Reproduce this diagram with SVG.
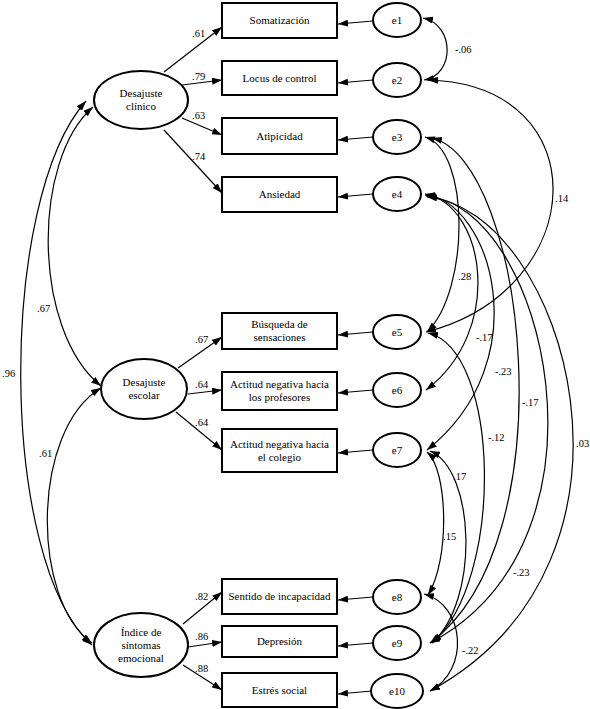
<svg xmlns="http://www.w3.org/2000/svg" width="590" height="709" viewBox="0 0 590 709" font-family="'Liberation Serif', 'Times New Roman', 'DejaVu Serif', serif">
<defs>
<marker id="ah" markerUnits="userSpaceOnUse" markerWidth="10" markerHeight="7" refX="10" refY="3.5" orient="auto-start-reverse">
<path d="M0,0 L10,3.5 L0,7 z" fill="#000"/>
</marker>
<style>
.box{fill:#fff;stroke:#000;stroke-width:2}
.ell{fill:#fff;stroke:#000;stroke-width:2}
text{font-family:'Liberation Serif','Times New Roman','DejaVu Serif',serif}
.t{font-size:11px;fill:#000;text-anchor:middle}
.l{font-size:10.5px;fill:#000}
.a{fill:none;stroke:#000;stroke-width:1.2;marker-end:url(#ah)}
.d{fill:none;stroke:#000;stroke-width:1.2;marker-start:url(#ah);marker-end:url(#ah)}
</style>
</defs>
<rect width="590" height="709" fill="#fff"/>
<g id="connectors">
<path class="a" d="M164 72 L222 27"/>
<path class="a" d="M182 85 L222 80"/>
<path class="a" d="M182 118 L222 135"/>
<path class="a" d="M164 130 L222 193"/>
<path class="a" d="M178 368 L222 337"/>
<path class="a" d="M188 394 L222 390"/>
<path class="a" d="M176 412 L222 450"/>
<path class="a" d="M183 624 L222 592"/>
<path class="a" d="M188 647 L222 642"/>
<path class="a" d="M183 665 L222 690"/>
<path class="a" d="M373 21 L338 24"/>
<path class="a" d="M373 80 L338 83"/>
<path class="a" d="M373 137 L338 140"/>
<path class="a" d="M373 194 L338 197"/>
<path class="a" d="M373 332 L338 335"/>
<path class="a" d="M373 390 L338 393"/>
<path class="a" d="M373 450 L338 453"/>
<path class="a" d="M373 597 L338 600"/>
<path class="a" d="M373 643 L338 646"/>
<path class="a" d="M372 691 L338 694"/>
<path class="d" d="M86 101 C-2 200,-2 560,92 645"/>
<path class="d" d="M93 107 C32 160,32 330,101 386"/>
<path class="d" d="M101 388 C31 430,31 600,92 643"/>
<path class="d" d="M423 18 C455 25,455 75,424 80"/>
<path class="d" d="M428 80 C600 85,590 290,426 332"/>
<path class="d" d="M425 137 C470 150,470 290,427 332"/>
<path class="d" d="M432 138 C525 160,570 540,430 643"/>
<path class="d" d="M425 194 C485 205,505 330,426 390"/>
<path class="d" d="M425 195 C490 200,540 360,427 450"/>
<path class="d" d="M426 196 C545 205,625 540,430 643"/>
<path class="d" d="M427 197 C565 210,670 560,430 691"/>
<path class="d" d="M428 333 C500 350,505 580,432 643"/>
<path class="d" d="M430 451 C475 470,480 600,432 643"/>
<path class="d" d="M427 452 C448 470,450 560,428 595"/>
<path class="d" d="M424 594 C465 605,470 670,430 691"/>
</g>
<g id="labels">
<text class="l" x="192" y="37">.61</text>
<text class="l" x="192" y="80">.79</text>
<text class="l" x="192" y="119">.63</text>
<text class="l" x="192" y="160">.74</text>
<text class="l" x="195" y="343">.67</text>
<text class="l" x="195" y="388">.64</text>
<text class="l" x="195" y="426">.64</text>
<text class="l" x="195" y="600">.82</text>
<text class="l" x="195" y="640">.86</text>
<text class="l" x="195" y="672">.88</text>
<text class="l" x="37" y="312">.67</text>
<text class="l" x="2" y="377">.96</text>
<text class="l" x="39" y="457">.61</text>
<text class="l" x="455" y="53">-.06</text>
<text class="l" x="555" y="202">.14</text>
<text class="l" x="458" y="280">.28</text>
<text class="l" x="476" y="341">-.17</text>
<text class="l" x="495" y="375">-.23</text>
<text class="l" x="522" y="406">-.17</text>
<text class="l" x="488" y="441">-.12</text>
<text class="l" x="576" y="447">.03</text>
<text class="l" x="453" y="480">.17</text>
<text class="l" x="443" y="540">.15</text>
<text class="l" x="513" y="576">-.23</text>
<text class="l" x="462" y="654">-.22</text>
</g>
<g id="n-clinico"><ellipse class="ell" cx="141" cy="100" rx="47" ry="29"/><text class="t" x="141" y="97">Desajuste</text><text class="t" x="141" y="110">clínico</text></g>
<g id="n-escolar"><ellipse class="ell" cx="144" cy="389" rx="43" ry="30"/><text class="t" x="144" y="386">Desajuste</text><text class="t" x="144" y="399">escolar</text></g>
<g id="n-indice"><ellipse class="ell" cx="141" cy="645" rx="47" ry="32"/><text class="t" x="141" y="636">Índice de</text><text class="t" x="141" y="649">síntomas</text><text class="t" x="141" y="662">emocional</text></g>
<g id="b-somatizacion"><rect class="box" x="222" y="3" width="115" height="35"/><text class="t" x="279.5" y="24">Somatización</text></g>
<g id="b-locus"><rect class="box" x="222" y="61" width="115" height="34"/><text class="t" x="279.5" y="82">Locus de control</text></g>
<g id="b-atipicidad"><rect class="box" x="222" y="118" width="115" height="36"/><text class="t" x="279.5" y="140">Atipicidad</text></g>
<g id="b-ansiedad"><rect class="box" x="222" y="177" width="115" height="35"/><text class="t" x="279.5" y="198">Ansiedad</text></g>
<g id="b-busqueda"><rect class="box" x="222" y="313" width="115" height="36"/><text class="t" x="279.5" y="328">Búsqueda de</text><text class="t" x="279.5" y="341">sensaciones</text></g>
<g id="b-profesores"><rect class="box" x="222" y="372" width="115" height="38"/><text class="t" x="279.5" y="388">Actitud negativa hacia</text><text class="t" x="279.5" y="401">los profesores</text></g>
<g id="b-colegio"><rect class="box" x="222" y="429" width="115" height="43"/><text class="t" x="279.5" y="448">Actitud negativa hacia</text><text class="t" x="279.5" y="461">el colegio</text></g>
<g id="b-sentido"><rect class="box" x="222" y="579" width="115" height="35"/><text class="t" x="279.5" y="600">Sentido de incapacidad</text></g>
<g id="b-depresion"><rect class="box" x="222" y="626" width="115" height="31"/><text class="t" x="279.5" y="645">Depresión</text></g>
<g id="b-estres"><rect class="box" x="222" y="673" width="115" height="34"/><text class="t" x="279.5" y="694">Estrés social</text></g>
<g id="e1"><ellipse class="ell" cx="397" cy="20" rx="24" ry="17"/><text class="t" x="397" y="24">e1</text></g>
<g id="e2"><ellipse class="ell" cx="397" cy="80" rx="24" ry="17"/><text class="t" x="397" y="84">e2</text></g>
<g id="e3"><ellipse class="ell" cx="397" cy="137" rx="24" ry="17"/><text class="t" x="397" y="141">e3</text></g>
<g id="e4"><ellipse class="ell" cx="397" cy="194" rx="24" ry="17"/><text class="t" x="397" y="198">e4</text></g>
<g id="e5"><ellipse class="ell" cx="397" cy="332" rx="24" ry="17"/><text class="t" x="397" y="336">e5</text></g>
<g id="e6"><ellipse class="ell" cx="397" cy="390" rx="24" ry="17"/><text class="t" x="397" y="394">e6</text></g>
<g id="e7"><ellipse class="ell" cx="397" cy="450" rx="24" ry="17"/><text class="t" x="397" y="454">e7</text></g>
<g id="e8"><ellipse class="ell" cx="397" cy="597" rx="24" ry="17"/><text class="t" x="397" y="601">e8</text></g>
<g id="e9"><ellipse class="ell" cx="397" cy="643" rx="24" ry="17"/><text class="t" x="397" y="647">e9</text></g>
<g id="e10"><ellipse class="ell" cx="397" cy="691" rx="26" ry="17"/><text class="t" x="397" y="695">e10</text></g>
</svg>
